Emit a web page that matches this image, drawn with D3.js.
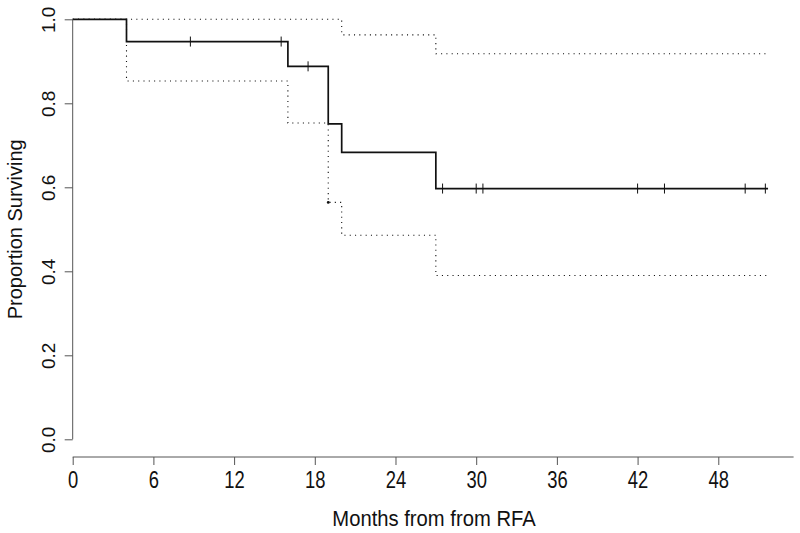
<!DOCTYPE html>
<html>
<head>
<meta charset="utf-8">
<script src="https://cdn.jsdelivr.net/npm/d3@7"></script>
<style>
  html, body { margin: 0; padding: 0; background: #fff; }
  svg { display: block; }
</style>
</head>
<body>
<svg id="chart" width="800" height="533"></svg>
<script>
// ---- data ----
const stepTimes   = [0, 4, 16, 19, 20, 27];
const survival    = [1.0, 0.947, 0.888, 0.751, 0.683, 0.597];
const upperCI     = [1.0, 1.0, 1.0, 1.0, 0.963, 0.918];
const lowerCI     = [1.0, 0.853, 0.753, 0.564, 0.486, 0.390];
const censorTimes = [8.75, 15.5, 17.5, 27.5, 30, 30.5, 42, 44, 50, 51.5];
const lastTime    = 51.7;
const xTicks      = [0, 6, 12, 18, 24, 30, 36, 42, 48];
const yTicks      = [0.0, 0.2, 0.4, 0.6, 0.8, 1.0];
const xLabel      = "Months from from RFA";
const yLabel      = "Proportion Surviving";

const svg = d3.select("#chart");
const x = d3.scaleLinear().domain([0, 53.6]).range([72.7, 793.6]);
const y = d3.scaleLinear().domain([0, 1]).range([439.3, 19.3]);
const axisColor = "#555";
const font = "'Liberation Sans', Arial, sans-serif";

function stepData(vals) {
  const pts = stepTimes.map((t, i) => [t, vals[i]]);
  pts.push([lastTime, vals[vals.length - 1]]);
  return pts;
}
const line = d3.line().x(d => x(d[0])).y(d => y(d[1])).curve(d3.curveStepAfter);

// CI dotted lines
[upperCI, lowerCI].forEach(vals => {
  svg.append("path")
    .attr("d", line(stepData(vals)))
    .attr("fill", "none")
    .attr("stroke", "#111")
    .attr("stroke-width", 1.1)
    .attr("stroke-dasharray", "1.1,4.2");
});
svg.append("circle")
  .attr("cx", x(stepTimes[3])).attr("cy", y(lowerCI[3]))
  .attr("r", 1.4).attr("fill", "#111");

// survival curve
svg.append("path")
  .attr("d", line(stepData(survival)))
  .attr("fill", "none")
  .attr("stroke", "#111")
  .attr("stroke-width", 1.7);

// censor marks
function survAt(t) {
  let v = survival[0];
  stepTimes.forEach((st, i) => { if (t >= st) v = survival[i]; });
  return v;
}
svg.selectAll("line.censor").data(censorTimes).join("line")
  .attr("class", "censor")
  .attr("x1", d => x(d)).attr("x2", d => x(d))
  .attr("y1", d => y(survAt(d)) - 5).attr("y2", d => y(survAt(d)) + 5)
  .attr("stroke", "#111").attr("stroke-width", 1);

// x axis
const xAxis = d3.axisBottom(x).tickValues(xTicks).tickSize(8).tickPadding(7).tickFormat(d3.format("d"));
const gx = svg.append("g").attr("transform", "translate(0,457)").call(xAxis);
gx.select(".domain").attr("d", `M${x(0)},0H${x(53.6)}`).attr("stroke", axisColor);
gx.selectAll(".tick line").attr("stroke", axisColor);
gx.selectAll(".tick text")
  .attr("fill", "#111")
  .attr("transform", "scale(0.8,1)")
  .style("font-family", font)
  .style("font-size", "23px");

// y axis
const yAxis = d3.axisLeft(y).tickValues(yTicks).tickSize(8).tickFormat(d3.format(".1f"));
const gy = svg.append("g").attr("transform", `translate(${x(0)},0)`).call(yAxis);
gy.select(".domain").attr("d", `M0,${y(0)}V${y(1)}`).attr("stroke", axisColor);
gy.selectAll(".tick line").attr("stroke", axisColor);
gy.selectAll(".tick text")
  .attr("fill", "#111")
  .attr("x", null).attr("dy", null)
  .attr("text-anchor", "middle")
  .attr("transform", "translate(-18,0) rotate(-90)")
  .attr("y", 0)
  .style("font-family", font)
  .style("font-size", "19px");

// axis titles
svg.append("g")
  .attr("transform", "translate(434,526) scale(0.92,1)")
  .append("text")
  .attr("text-anchor", "middle")
  .attr("fill", "#111")
  .style("font-family", font)
  .style("font-size", "22px")
  .text(xLabel);

svg.append("text")
  .attr("transform", `translate(22,${(y(0) + y(1)) / 2}) rotate(-90)`)
  .attr("text-anchor", "middle")
  .attr("fill", "#111")
  .style("font-family", font)
  .style("font-size", "20px")
  .text(yLabel);
</script>
</body>
</html>
